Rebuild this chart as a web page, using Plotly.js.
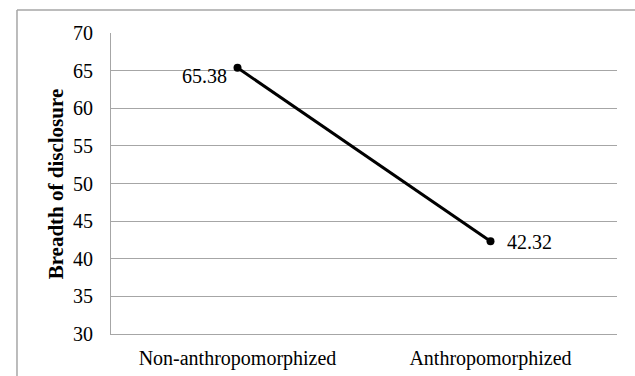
<!DOCTYPE html>
<html>
<head>
<meta charset="utf-8">
<script src="https://cdn.plot.ly/plotly-3.0.1.min.js"></script>
<style>html,body{margin:0;padding:0;background:#fff;}#chart{width:635px;height:376px;}</style>
</head>
<body>
<div id="chart"></div>
<script>
const categories = ["Non-anthropomorphized", "Anthropomorphized"];
const values = [65.38, 42.32];
const valueLabels = ["65.38", "42.32"];
const yTicks = [30, 35, 40, 45, 50, 55, 60, 65, 70];
const yTitle = "Breadth of disclosure";

const FONT = "Liberation Serif";
const GRID = "#a6a6a6";

const trace = {
  x: categories,
  y: values,
  type: "scatter",
  mode: "lines+markers",
  line: {color: "#000", width: 3},
  marker: {color: "#000", size: 8},
  hoverinfo: "none"
};

const labelOffsets = [{xanchor: "right", xshift: -9, yshift: -8}, {xanchor: "left", xshift: 14, yshift: -1}];
const annotations = categories.map((c, i) => ({
  x: c, y: values[i], xref: "x", yref: "y",
  text: valueLabels[i], showarrow: false,
  xanchor: labelOffsets[i].xanchor, yanchor: "middle",
  xshift: labelOffsets[i].xshift, yshift: labelOffsets[i].yshift,
  font: {family: FONT, size: 20, color: "#000"}
}));
annotations.push({
  x: -0.109, y: 0.5, xref: "paper", yref: "paper",
  text: "<b>" + yTitle + "</b>", textangle: -90, showarrow: false,
  xanchor: "center", yanchor: "middle",
  font: {family: FONT, size: 21, color: "#000"}
});

const layout = {
  width: 635, height: 376,
  margin: {l: 111, r: 18, t: 33, b: 42},
  paper_bgcolor: "#fff", plot_bgcolor: "#fff",
  showlegend: false,
  font: {family: FONT, size: 19, color: "#000"},
  xaxis: {
    type: "category", range: [-0.5, 1.5],
    showgrid: false, zeroline: false,
    showline: true, linecolor: GRID, linewidth: 1,
    ticks: "", ticklabelstandoff: 6,
    tickfont: {family: FONT, size: 20, color: "#000"},
    fixedrange: true
  },
  yaxis: {
    range: [30, 70], tickvals: yTicks, ticktext: yTicks.map(String),
    showgrid: true, gridcolor: GRID, gridwidth: 1,
    zeroline: false, showline: true, linecolor: GRID, linewidth: 1,
    ticks: "", ticklabelstandoff: 13,
    tickfont: {family: FONT, size: 20, color: "#000"},
    fixedrange: true
  },
  annotations: annotations,
  shapes: [
    {type: "line", xref: "paper", yref: "paper", x0: -0.1858, x1: 1.1, y0: 1.0764, y1: 1.0764, line: {color: GRID, width: 1.5}},
    {type: "line", xref: "paper", yref: "paper", x0: -0.1858, x1: -0.1858, y0: 1.0764, y1: -0.2, line: {color: GRID, width: 1.5}}
  ]
};

Plotly.newPlot("chart", [trace], layout, {displayModeBar: false, staticPlot: true});
</script>
</body>
</html>
